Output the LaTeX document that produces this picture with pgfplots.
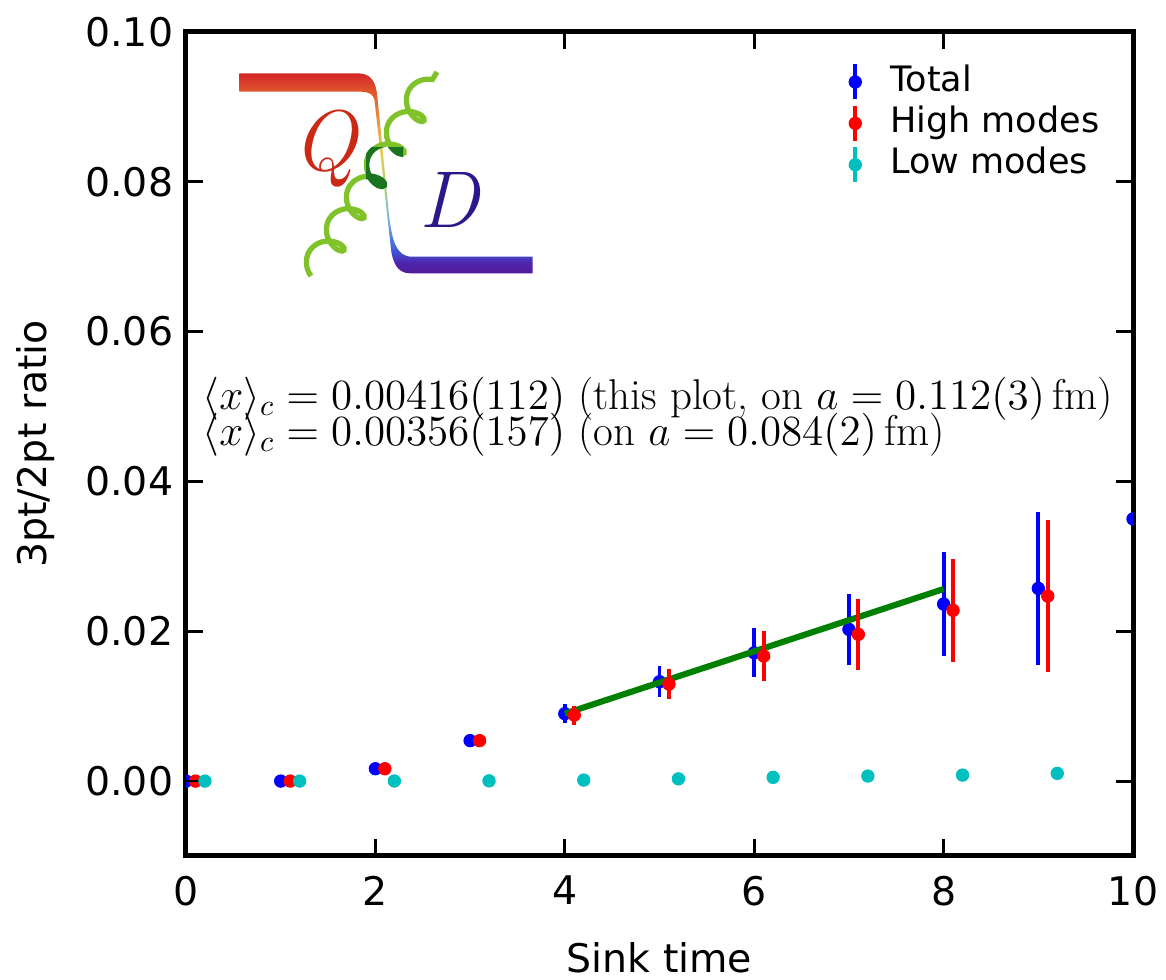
\RequirePackage{fix-cm}
\documentclass[border=0pt]{standalone}
\usepackage{pgfplots}
\pgfplotsset{compat=1.18}
\usepackage{fontspec}
\newfontfamily\dejavu{DejaVu Sans}
\usetikzlibrary{decorations.pathmorphing}
\definecolor{qa}{rgb}{0.33,0.10,0.60}
\definecolor{qb}{rgb}{0.30,0.15,0.68}
\definecolor{qc}{rgb}{0.25,0.35,0.85}
\definecolor{qd}{rgb}{0.45,0.70,0.90}
\definecolor{qe}{rgb}{0.65,0.82,0.50}
\definecolor{qf}{rgb}{0.92,0.80,0.30}
\definecolor{qg}{rgb}{0.90,0.50,0.20}
\definecolor{qh}{rgb}{0.88,0.35,0.18}
\definecolor{qi}{rgb}{0.83,0.15,0.15}
\definecolor{mplcyan}{rgb}{0,0.75,0.75}
\definecolor{mplgreen}{rgb}{0,0.5,0}
\definecolor{coilgreen}{rgb}{0.50,0.76,0.16}
\definecolor{coildark}{rgb}{0.10,0.45,0.12}
\definecolor{qred}{rgb}{0.80,0.16,0.08}
\definecolor{ddblue}{rgb}{0.17,0.10,0.55}
\pgfdeclareverticalshading{qcd}{100bp}{color(0bp)=(qa); color(25bp)=(qa); color(27.75bp)=(qb); color(30.75bp)=(qc); color(38.25bp)=(qd); color(45.75bp)=(qe); color(55.75bp)=(qf); color(65.75bp)=(qg); color(70.25bp)=(qh); color(75bp)=(qi); color(100bp)=(qi)}

\pgfplotstableread{
x y ey
0 0 0
1 0 0.0001
2 0.00165 0.0002
3 0.0054 0.0004
4 0.0090 0.00125
5 0.01326 0.0021
6 0.01713 0.0033
7 0.02025 0.0047
8 0.02363 0.0069
9 0.02572 0.0102
10 0.0350 0
}\total
\pgfplotstableread{
x y ey
0.1 0 0
1.1 0 0.0001
2.1 0.00165 0.0002
3.1 0.0054 0.0004
4.1 0.00881 0.00127
5.1 0.01295 0.0020
6.1 0.01669 0.0033
7.1 0.01958 0.0047
8.1 0.02279 0.0069
9.1 0.0247 0.0102
}\high
\pgfplotstableread{
x y ey
0.2 0 0
1.2 0 0
2.2 0.00001 0
3.2 0.00003 0
4.2 0.00013 0.00002
5.2 0.00030 0.00003
6.2 0.00050 0.00004
7.2 0.00067 0.00005
8.2 0.00080 0.00006
9.2 0.00103 0.00008
}\low

\begin{document}
\begin{tikzpicture}
\begin{axis}[
  name=ax,
  scale only axis,
  width=340.92pt, height=296.64pt,
  xmin=0, xmax=10, ymin=-0.01, ymax=0.1,
  xtick={0,2,4,6,8,10},
  ytick={0,0.02,0.04,0.06,0.08,0.1},
  scaled y ticks=false,
  minor tick num=0,
  tick align=inside,
  major tick length=6.1pt,
  tick style={black, line width=1.1pt},
  axis line style={line width=1.8pt},
  /pgf/number format/assume math mode=true,
  ticklabel style={font=\dejavu\fontsize{14.2}{16}\selectfont},
  y tick label style={/pgf/number format/.cd, fixed, fixed zerofill, precision=2, /tikz/.cd, xshift=-1.1pt},
  x tick label style={yshift=-3.6pt},
  xlabel={Sink time},
  ylabel={3pt/2pt ratio},
  every axis x label/.style={at={(axis description cs:0.5,-0.1234)}, anchor=center, font=\dejavu\fontsize{14.2}{16}\selectfont},
  every axis y label/.style={at={(axis description cs:-0.1584,0.5)}, rotate=90, anchor=center, font=\dejavu\fontsize{14.2}{16}\selectfont},
  clip marker paths=true,
  legend style={at={(rel axis cs:0.6991,0.9636)}, anchor=north west, draw=none, fill=none,
    font=\dejavu\fontsize{12.6}{15}\selectfont, inner sep=0pt, row sep=0.9pt, column sep=9.2pt,
    nodes={inner sep=1pt, text height=9.2pt, text depth=2.6pt}},
  legend cell align=left,
  error bars/error bar style={line width=1.4pt},
]
\addplot[blue, only marks, mark=*, mark size=2.2pt, mark options={draw=blue, fill=blue},
  legend image code/.code={\draw[blue, line width=1.4pt] (0pt,-6.3pt) -- (0pt,6.3pt); \fill[blue] (0pt,0pt) circle[radius=2.2pt];},
  error bars/.cd, y dir=both, y explicit, error mark=none]
  table[x=x, y=y, y error=ey] {\total};
\addlegendentry{Total}
\addplot[mplgreen, line width=2.2pt, forget plot] coordinates {(4,0.0090) (8,0.02564)};
\addplot[red, only marks, mark=*, mark size=2.2pt, mark options={draw=red, fill=red},
  legend image code/.code={\draw[red, line width=1.4pt] (0pt,-6.3pt) -- (0pt,6.3pt); \fill[red] (0pt,0pt) circle[radius=2.2pt];},
  error bars/.cd, y dir=both, y explicit, error mark=none]
  table[x=x, y=y, y error=ey] {\high};
\addlegendentry{High modes}
\addplot[black, line width=1pt, forget plot] coordinates {(0,0) (0.2,0)};
\addplot[mplcyan, only marks, mark=*, mark size=2.2pt, mark options={draw=mplcyan, fill=mplcyan},
  legend image code/.code={\draw[mplcyan, line width=1.4pt] (0pt,-6.3pt) -- (0pt,6.3pt); \fill[mplcyan] (0pt,0pt) circle[radius=2.2pt];},
  error bars/.cd, y dir=both, y explicit, error mark=none]
  table[x=x, y=y, y error=ey] {\low};
\addlegendentry{Low modes}
\node[anchor=base west, font=\fontsize{15.5}{17}\selectfont, inner sep=0pt] at (axis cs:0.17,0.04967)
  {$\langle x\rangle_c = 0.00416(112)$ (this plot, on $a=0.112(3)\,\mathrm{fm}$)};
\node[anchor=base west, font=\fontsize{15.5}{17}\selectfont, inner sep=0pt] at (axis cs:0.17,0.04486)
  {$\langle x\rangle_c = 0.00356(157)$ (on $a=0.084(2)\,\mathrm{fm}$)};
\end{axis}
% QCD logo (decoration), drawn in pixel units of the reference
\begin{scope}[shift={(ax.south west)}, x=0.36pt, y=-0.36pt, shift={(-186,-856)}]
  \shade[shading=qcd] (239.3,73.3) -- (357,73.3) .. controls (371,73.3) and (376,81) .. (377.5,98)
     -- (389,215) .. controls (392,240) and (396,256.7) .. (412,256.7) -- (532.7,256.7) -- (532.7,273.3)
     -- (410,273.3) .. controls (397,273.3) and (392,262) .. (390.5,245)
     -- (374.5,100) .. controls (373,94) and (369,91.7) .. (360,91.7) -- (239.3,91.7) -- cycle;
  \node[text=qred, font=\fontsize{31}{31}\selectfont\itshape] at (325,149) {Q};
  \node[text=ddblue, font=\fontsize{29}{29}\selectfont\itshape] at (449,200) {D};
  \draw[coilgreen, line width=1.9pt, decorate, decoration={coil, aspect=0.75, segment length=13.7pt, amplitude=5.2pt}]
     (311,276) -- (437,72);
  \begin{scope}
    \clip (366,148) rectangle (403,205);
    \draw[coildark, line width=2.1pt, decorate, decoration={coil, aspect=0.75, segment length=13.7pt, amplitude=5.2pt}]
     (311,276) -- (437,72);
  \end{scope}
\end{scope}
\pgfresetboundingbox
\path[use as bounding box] ([xshift=-66.96pt,yshift=-44.64pt]ax.south west) rectangle ([xshift=352.8pt,yshift=308.16pt]ax.south west);
\end{tikzpicture}
\end{document}
